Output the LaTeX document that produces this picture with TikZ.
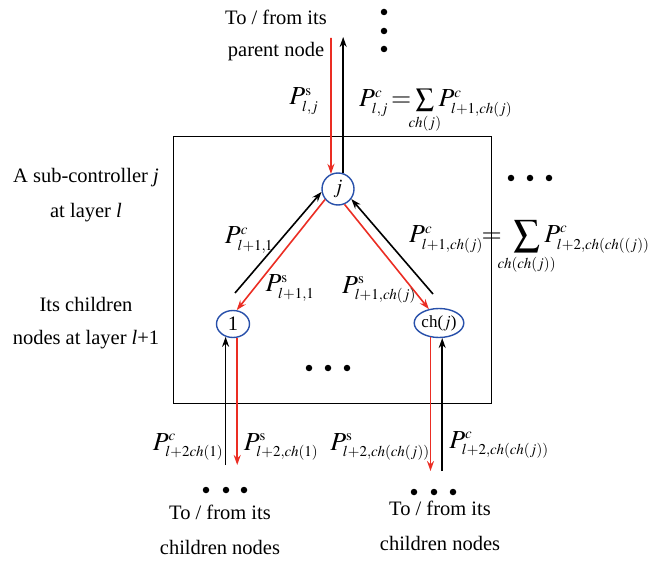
\documentclass[tikz,border=0pt]{standalone}
\usepackage{mathptmx}
\usepackage[no-math]{fontspec}
\setmainfont{Liberation Serif}
\usetikzlibrary{arrows.meta,shapes.geometric}
\DeclareMathSizes{26}{26}{15}{11}
\DeclareMathSizes{20.5}{20.5}{14}{10}
\definecolor{myred}{RGB}{235,45,35}
\definecolor{myblue}{RGB}{40,80,170}
\newcommand{\zclap}[1]{\makebox[0pt]{$\scriptstyle #1$}}
\tikzset{
  txt/.style={font=\fontsize{20.5}{24}\selectfont, inner sep=0pt},
  lbl/.style={font=\fontsize{26}{30}\selectfont, inner sep=0pt},
  nd/.style={ellipse, draw=myblue, line width=1.4pt, inner sep=0pt, font=\fontsize{20.5}{24}\selectfont},
  up/.style={line width=1.6pt, draw=black, -{Stealth[length=10pt,width=7pt]}},
  dn/.style={line width=1.6pt, draw=myred, -{Stealth[length=10pt,width=7pt]}},
  dot/.style={circle, fill=black, inner sep=0pt, minimum size=6.5pt}
}
\begin{document}
\begin{tikzpicture}[x=1pt,y=-1pt]
\useasboundingbox (0,0) rectangle (653,561);
% frame
\draw[line width=0.9pt] (173,136) rectangle (491,403);
% nodes
\node[nd, minimum width=32pt, minimum height=32pt] (j) at (338,189) {$j$};
\node[nd, minimum width=33pt, minimum height=27pt] (n1) at (233,324) {1};
\node[nd, minimum width=46pt, minimum height=29pt, font=\fontsize{17}{20}\selectfont] (ch) at (439,323) {ch($j$)};
% free ends
\coordinate (ptop) at (331,38);
\coordinate (ptopb) at (343,37);
\coordinate (c1) at (235,293);
\coordinate (c2) at (433,294);
\coordinate (b1) at (0,465);
\coordinate (b2) at (0,471);
\coordinate (xr) at (430.5,0);
% top connectors
\draw[dn] (ptop) -- (j.115);
\draw[up] (j.72) -- (j.72 |- ptopb);
% diagonal connectors
\draw[up] (c1) -- (j.190);
\draw[dn] (j.219) -- (n1.75);
\draw[dn] (j.293) -- (ch.126);
\draw[up] (c2) -- (j.323);
% bottom connectors
\draw[up] (n1.240 |- b1) -- (n1.240);
\draw[dn] (n1.287) -- (n1.287 |- b1);
\draw[dn] (ch.236 -| xr) -- (xr |- b2);
\draw[up] (ch.282 |- b2) -- (ch.282);
% dots
\node[dot] (d1) at (384,12) {};
\node[dot] (d2) at (384,31) {};
\node[dot] (d3) at (384,49) {};
\node[dot] (d4) at (511,178) {};
\node[dot] (d5) at (530,178) {};
\node[dot] (d6) at (549,178) {};
\node[dot] (d7) at (309,368) {};
\node[dot] (d8) at (328,368) {};
\node[dot] (d9) at (347,368) {};
\node[dot] (d10) at (206,490) {};
\node[dot] (d11) at (226,490) {};
\node[dot] (d12) at (244,490) {};
\node[dot] (d13) at (414,492) {};
\node[dot] (d14) at (434,492) {};
\node[dot] (d15) at (453,492) {};
% texts
\node[txt] (t1) at (276,17) {To / from its};
\node[txt] (t2) at (276,52) {parent node};
\node[txt] (t3) at (86,178) {A sub-controller \textit{j}};
\node[txt] (t4) at (86,213) {at layer \textit{l}};
\node[txt] (t5) at (86,304) {Its children};
\node[txt] (t6) at (86,340) {nodes at layer \textit{l}+1};
\node[txt] (t7) at (220,512) {To / from its};
\node[txt] (t8) at (220,547) {children nodes};
\node[txt] (t9) at (440,508) {To / from its};
\node[txt] (t10) at (440,543) {children nodes};
% labels
\node[lbl] (L1) at (304,101) {$P^{\mathrm{s}}_{l,j}$};
\node[lbl, anchor=base west] (L2) at (359,107)
  {$P^{c}_{l,j}\mkern2mu{=}\mkern1mu\sum\limits_{\zclap{ch(j)}}\mkern1mu P^{c}_{l+1,ch(j)}$};
\node[lbl] (L3) at (249,240) {$P^{c}_{l+1,\mkern-1mu 1}$};
\node[lbl] (L4) at (290,288) {$P^{\mathrm{s}}_{l+1,1}$};
\node[lbl] (L5) at (379,290) {$P^{\mathrm{s}}_{l+1,ch(j)}$};
\node[lbl, anchor=base west] (L6) at (409,243)
  {$P^{c}_{l+1,ch(j)}\mkern-1mu{=}\mkern6mu\displaystyle\sum_{\zclap{ch(ch(j))}}\mkern1mu P^{c}_{l+2,ch(ch((j))}$};
\node[lbl] (L7) at (188,447) {$P^{c}_{l+2ch(1)}$};
\node[lbl] (L8) at (281,447) {$P^{\mathrm{s}}_{l+2,ch(1)}$};
\node[lbl] (L9) at (380,447) {$P^{\mathrm{s}}_{l+2,ch(ch(j))}$};
\node[lbl] (L10) at (499,445) {$P^{c}_{l+2,ch(ch(j))}$};
\end{tikzpicture}
\end{document}
